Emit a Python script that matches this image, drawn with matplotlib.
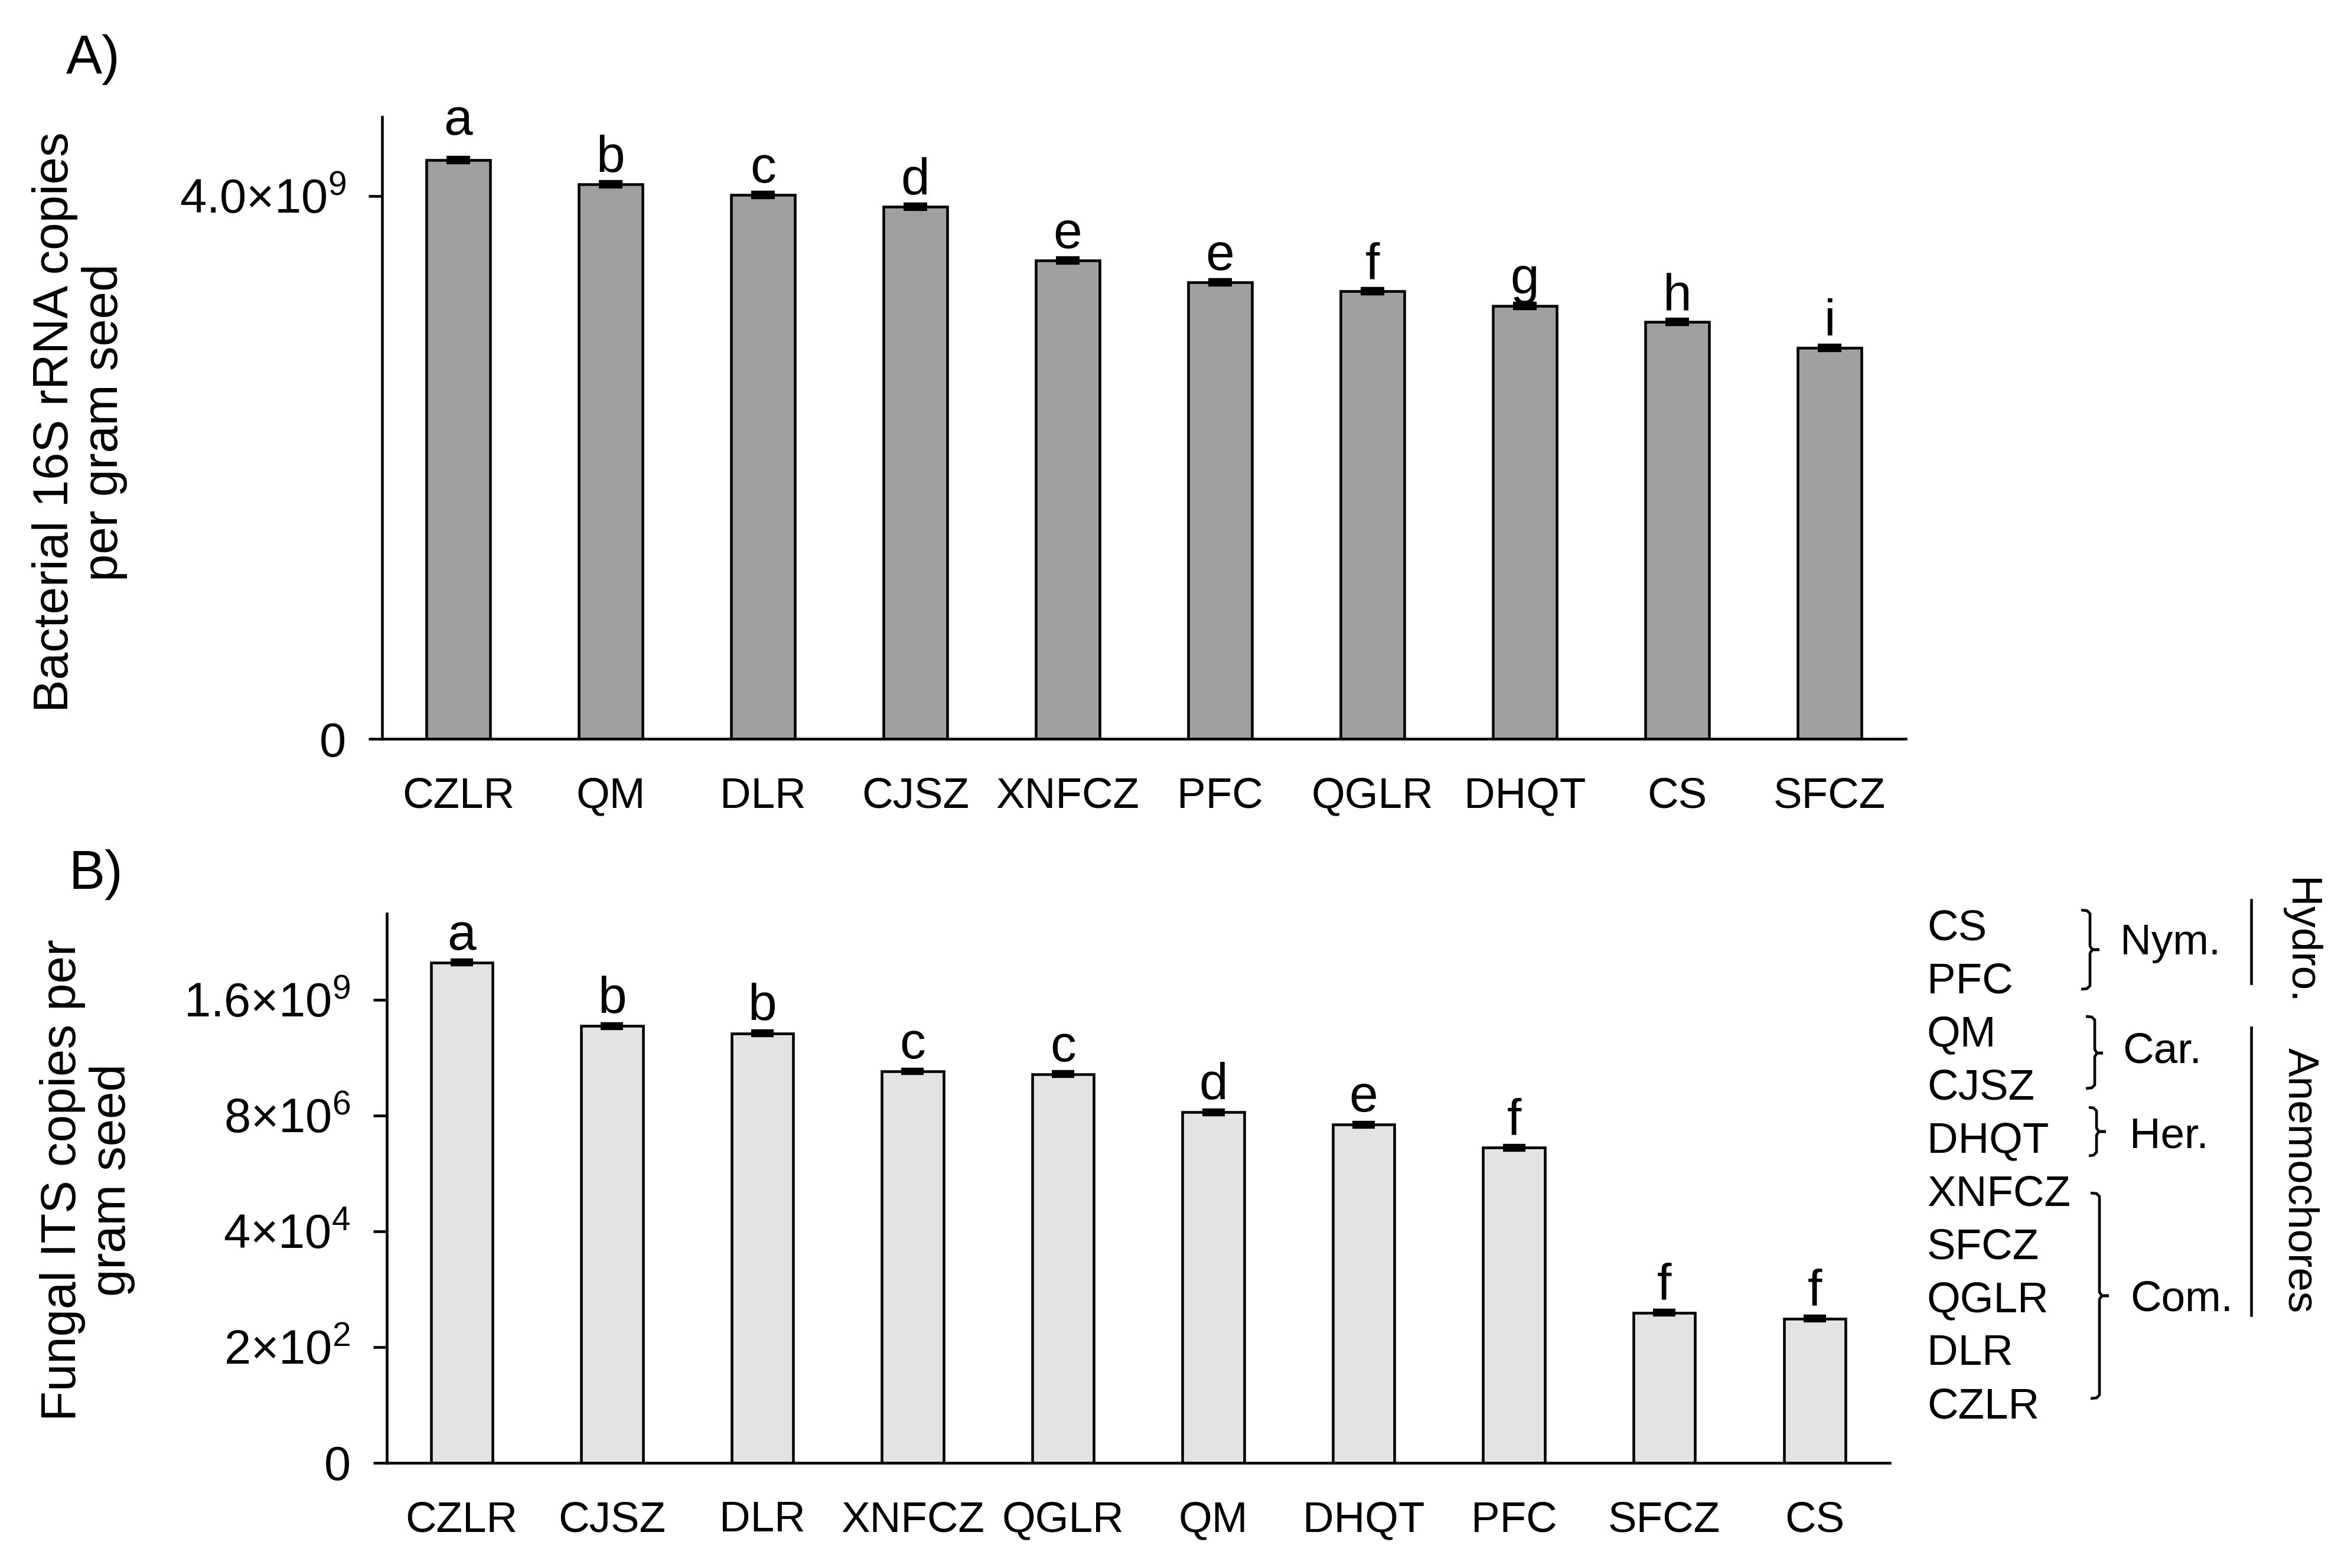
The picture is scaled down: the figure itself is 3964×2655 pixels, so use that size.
import numpy as np
import matplotlib
matplotlib.use("Agg")
import matplotlib.pyplot as plt
from matplotlib.lines import Line2D
from matplotlib.ticker import NullLocator

plt.rcParams['font.family'] = ['Liberation Sans', 'DejaVu Sans']
plt.rcParams['mathtext.fontset'] = 'custom'
plt.rcParams['mathtext.rm'] = 'Liberation Sans'
plt.rcParams['mathtext.it'] = 'Liberation Sans'
plt.rcParams['mathtext.default'] = 'regular'

# ---------------- data ----------------
cats_A = ['CZLR', 'QM', 'DLR', 'CJSZ', 'XNFCZ', 'PFC', 'QGLR', 'DHQT', 'CS', 'SFCZ']
vals_A = [4.263e9, 4.086e9, 4.008e9, 3.920e9, 3.524e9, 3.363e9, 3.297e9, 3.189e9, 3.071e9, 2.880e9]
err_A = [0.008e9, 0.008e9, 0.008e9, 0.008e9, 0.008e9, 0.008e9, 0.008e9, 0.008e9, 0.008e9, 0.008e9]
letters_A = ['a', 'b', 'c', 'd', 'e', 'e', 'f', 'g', 'h', 'i']
yticks_A = [0, 4.0e9]
yticklabels_A = ['0', '4.0×10$^{9}$']

cats_B = ['CZLR', 'CJSZ', 'DLR', 'XNFCZ', 'QGLR', 'QM', 'DHQT', 'PFC', 'SFCZ', 'CS']
vals_B = [8.7e9, 4.8e8, 3.4e8, 6.0e7, 5.25e7, 9.2e6, 5.2e6, 1.82e6, 954, 725]
err_B = [3.5e8, 1.9e7, 1.4e7, 2.4e6, 2.1e6, 3.7e5, 2.1e5, 7.3e4, 38, 29]
letters_B = ['a', 'b', 'b', 'c', 'c', 'd', 'e', 'f', 'f', 'f']
yticks_B = [0, 2e2, 4e4, 8e6, 1.6e9]
yticklabels_B = ['0', '2×10$^{2}$', '4×10$^{4}$', '8×10$^{6}$', '1.6×10$^{9}$']

legend_sites = ['CS', 'PFC', 'QM', 'CJSZ', 'DHQT', 'XNFCZ', 'SFCZ', 'QGLR', 'DLR', 'CZLR']
group_names = ['Nym.', 'Car.', 'Her.', 'Com.']
mode_names = ['Hydro.', 'Anemochores']

# ---------------- figure ----------------
W, H, DPI = 3964, 2655, 300
fig = plt.figure(figsize=(W / DPI, H / DPI), dpi=DPI)


def fx(px):
    return px / W


def fy(py):
    return 1 - py / H


LW = 1.1


def style_axes(ax, xcats):
    for s in ['top', 'right']:
        ax.spines[s].set_visible(False)
    for s in ['left', 'bottom']:
        ax.spines[s].set_linewidth(LW)
    ax.set_xticks(np.arange(len(xcats)))
    ax.set_xticklabels(xcats)
    ax.tick_params(axis='x', length=0, pad=15.5, labelsize=17.5)
    ax.tick_params(axis='y', length=5.6, width=LW, pad=9, labelsize=19.5, direction='out')
    ax.set_xlim(-0.5, len(xcats) - 0.5)


# ---- Panel A ----
axA = fig.add_axes([fx(647), fy(1251), fx(3227) - fx(647), (1251 - 198) / H])
xA = np.arange(len(cats_A))
axA.bar(xA, vals_A, width=0.415, color='#a0a0a0', edgecolor='black', linewidth=LW, zorder=2)
axA.errorbar(xA, vals_A, yerr=err_A, fmt='none', ecolor='black', elinewidth=2.5,
             capsize=4.8, capthick=2.5, zorder=3)
style_axes(axA, cats_A)
axA.set_ylim(0, 4.581e9)
axA.set_yticks(yticks_A)
axA.set_yticklabels(yticklabels_A)
for i, l in enumerate(letters_A):
    pad = 10 if i == 0 else 4.5
    axA.annotate(l, (xA[i], vals_A[i] + err_A[i]), xytext=(0, pad), textcoords='offset points',
                 ha='center', va='baseline', fontsize=21)


# ---- Panel B (custom axis: linear to 200, then log base 200) ----
def fwd(v):
    v = np.asarray(v, dtype=float)
    return np.where(v <= 200, v / 200.0,
                    1 + np.log(np.maximum(v, 200) / 200.0) / np.log(200.0))


def inv(p):
    p = np.asarray(p, dtype=float)
    return np.where(p <= 1, p * 200.0, 200.0 * np.power(200.0, np.maximum(p, 1) - 1))


axB = fig.add_axes([fx(654.5), fy(2476.5), fx(3200) - fx(654.5), (2476.5 - 1546.5) / H])
axB.set_yscale('function', functions=(fwd, inv))
xB = np.arange(len(cats_B))
axB.bar(xB, vals_B, width=0.41, color='#e3e3e3', edgecolor='black', linewidth=LW, zorder=2)
axB.errorbar(xB, vals_B, yerr=err_B, fmt='none', ecolor='black', elinewidth=2.5,
             capsize=4.6, capthick=2.5, zorder=3)
style_axes(axB, cats_B)
axB.set_ylim(0, float(inv(4.745)))
axB.set_yticks(yticks_B)
axB.set_yticklabels(yticklabels_B)
axB.yaxis.set_minor_locator(NullLocator())
for i, l in enumerate(letters_B):
    axB.annotate(l, (xB[i], vals_B[i] + err_B[i]), xytext=(0, 5), textcoords='offset points',
                 ha='center', va='baseline', fontsize=21)

# ---- axis titles / panel letters ----
fig.text(fx(54), fy(715), 'Bacterial 16S rRNA copies\nper gram seed', rotation=90,
         ha='left', va='center', multialignment='center', fontsize=20, linespacing=1.1)
fig.text(fx(67), fy(1998), 'Fungal ITS copies per\ngram seed', rotation=90,
         ha='left', va='center', multialignment='center', fontsize=20, linespacing=1.1)
fig.text(fx(112), fy(125), 'A)', fontsize=22, ha='left', va='baseline')
fig.text(fx(116), fy(1505), 'B)', fontsize=22, ha='left', va='baseline')

# ---- right-hand classification key ----
for k, name in enumerate(legend_sites):
    fig.text(fx(3263), fy(1591 + k * 90.0), name, fontsize=17.5, ha='left', va='baseline')


def brace(x0, x1, x2, ytop, ybot, ymid):
    up = [(x0, ytop), (x1 - 5, ytop + 1), (x1, ytop + 6), (x1, ymid - 6), (x1 + 4, ymid), (x2, ymid)]
    lo = [(x0, ybot), (x1 - 5, ybot - 1), (x1, ybot - 6), (x1, ymid + 6), (x1 + 4, ymid), (x2, ymid)]
    for pts in (up, lo):
        xs = [fx(p[0]) for p in pts]
        ys = [fy(p[1]) for p in pts]
        fig.add_artist(Line2D(xs, ys, transform=fig.transFigure, color='black', lw=LW,
                              solid_joinstyle='round', solid_capstyle='butt'))


brace_geom = [(3524, 3539, 3555, 1541, 1675, 1608),
              (3532, 3547, 3561, 1721, 1843, 1783),
              (3537, 3550, 3566, 1875, 1957, 1916),
              (3540, 3555, 3571, 2020, 2368, 2194)]
group_label_pos = [(3590, 1616), (3594, 1800), (3606, 1944), (3607, 2220)]
for g, (bx, lp) in enumerate(zip(brace_geom, group_label_pos)):
    brace(*bx)
    fig.text(fx(lp[0]), fy(lp[1]), group_names[g], fontsize=17.5, ha='left', va='baseline')

mode_lines = [(1524, 1665), (1740, 2227)]
mode_centers = [1594, 1999]
for m, ((y0, y1), yc) in enumerate(zip(mode_lines, mode_centers)):
    fig.add_artist(Line2D([fx(3812), fx(3812)], [fy(y0), fy(y1)], transform=fig.transFigure,
                          color='black', lw=LW))
    fig.text(fx(3927), fy(yc), mode_names[m], rotation=270, fontsize=17.5,
             ha='right', va='center')

fig.savefig('out.png', dpi=DPI, facecolor='white')
